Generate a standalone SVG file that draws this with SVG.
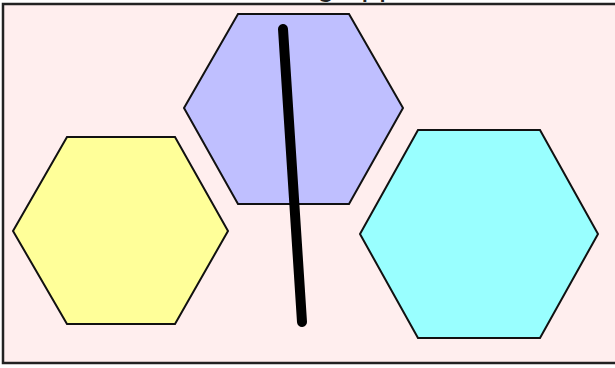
<svg xmlns="http://www.w3.org/2000/svg" width="615" height="368" viewBox="0 0 615 368">
<style>
.hex{stroke:#111;stroke-width:2;stroke-linejoin:miter}
.title{font-family:"Liberation Sans",Arial,sans-serif;font-size:32px;fill:#222}
</style>
<rect x="0" y="0" width="615" height="368" fill="#ffffff"/>
<rect x="3" y="4" width="620" height="359" fill="#ffeeee" stroke="#222" stroke-width="2.5"/>
<text class="title" x="307" y="-5" text-anchor="middle">Drawing app</text>
<g id="hex-blue">
<polygon class="hex" fill="#bfbfff" points="238,14 349,14 403,108 349,204 238,204 184,108"/>
</g>
<g id="hex-yellow">
<polygon class="hex" fill="#ffff99" points="67,137 175,137 228,231 175,324 67,324 13,231"/>
</g>
<g id="hex-cyan">
<polygon class="hex" fill="#99ffff" points="418,130 540,130 598,234 540,338 418,338 360,234"/>
</g>
<g id="connectors">
<path d="M283,29 L302,322" stroke="#000" stroke-width="10" stroke-linecap="round" fill="none"/>
</g>
</svg>
